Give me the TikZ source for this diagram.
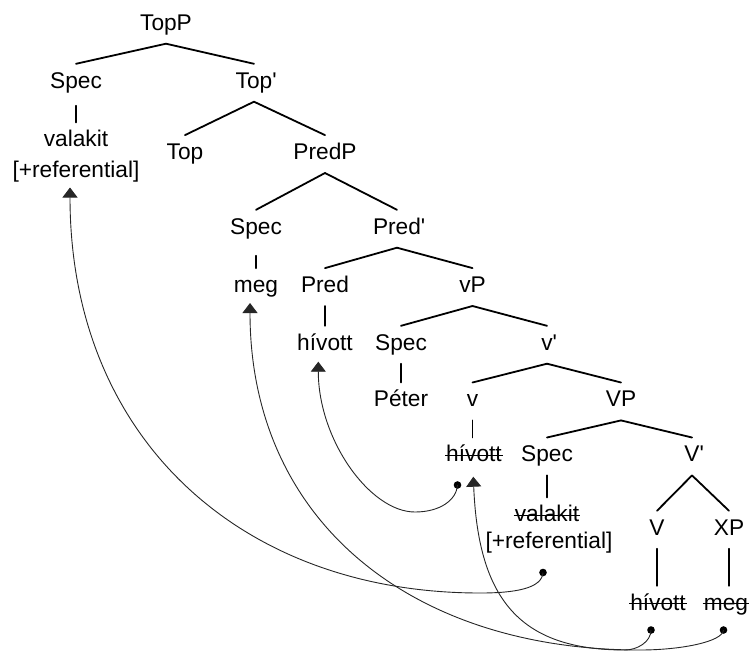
\documentclass[tikz,border=0pt]{standalone}
\usepackage{fontspec}
\setmainfont{Liberation Sans}
\usetikzlibrary{arrows.meta}
\begin{document}
\begin{tikzpicture}[x=1pt, y=-1pt,
  lbl/.style={inner xsep=1pt, inner ysep=0pt, anchor=base,
    text height=24pt, text depth=13.5pt,
    font=\fontsize{22.7}{27}\selectfont},
  branch/.style={line width=1.8pt, line cap=round},
  strike/.style={line width=1.4pt},
  mv/.style={line width=0.9pt, draw=black!85,
    -{Triangle[width=15pt,length=10pt]}},
  dot/.style={circle, fill=black, inner sep=0pt, minimum size=7.6pt}]
\useasboundingbox (0,0) rectangle (749,651);

% tree labels
\node[lbl] (topp)     at (166,30)    {TopP};
\node[lbl] (spec1)    at (76,88)     {Spec};
\node[lbl] (topbar)   at (254,88)    {Top\rlap{\textquotesingle}};
\node[lbl] (valakit1) at (76,146.7)  {valakit};
\node[lbl] (ref1)     at (76,177)    {[+referential]};
\node[lbl] (top)      at (185,159.3) {Top};
\node[lbl] (predp)    at (325,159.3) {PredP};
\node[lbl] (spec2)    at (256,234)   {Spec};
\node[lbl] (predbar)  at (397,234)   {Pred\rlap{\textquotesingle}};
\node[lbl] (meg1)     at (256,292.3) {meg};
\node[lbl] (pred)     at (325,292.3) {Pred};
\node[lbl] (vp)       at (472.5,292.3) {vP};
\node[lbl] (hivott1)  at (325,350)   {hívott};
\node[lbl] (spec3)    at (401,350)   {Spec};
\node[lbl] (vbar)     at (547,350)   {v\rlap{\textquotesingle}};
\node[lbl] (peter)    at (401,406.7) {Péter};
\node[lbl] (v)        at (472.5,406.7) {v};
\node[lbl] (vp2)      at (621,406.7) {VP};
\node[lbl] (hivott2)  at (474,461.7) {hívott};
\node[lbl] (spec4)    at (547,461.7) {Spec};
\node[lbl] (vbar2)    at (692,461.7) {V\rlap{\textquotesingle}};
\node[lbl] (valakit2) at (547,521.7) {valakit};
\node[lbl] (ref2)     at (549,548.5) {[+referential]};
\node[lbl] (vv)       at (657,535)   {V};
\node[lbl] (xp)       at (729,535)   {XP};
\node[lbl] (hivott3)  at (658,610)   {hívott};
\node[lbl] (meg2)     at (726,610)   {meg};

% binary branches
\foreach \p/\c in {topp/spec1, topp/topbar, topbar/top, topbar/predp,
    predp/spec2, predp/predbar, predbar/pred, predbar/vp,
    vp/spec3, vp/vbar, vbar/v, vbar/vp2, vp2/spec4, vp2/vbar2,
    vbar2/vv, vbar2/xp}
  \draw[branch] (\p.south) -- (\c.north);

% unary branches
\draw[branch, shorten <=4pt] (spec1.south) -- (spec1.south |- valakit1.north);
\draw[branch, shorten <=8pt] (spec2.south) -- (spec2.south |- meg1.north);
\foreach \p/\c in {pred/hivott1, spec3/peter, v/hivott2, spec4/valakit2,
    vv/hivott3, xp/meg2}
  \draw[branch] (\p.south) -- (\p.south |- \c.north);

% traces struck through
\foreach \n in {hivott2, valakit2, hivott3, meg2}
  \draw[strike] ([yshift=6.5pt]\n.base west) -- ([yshift=6.5pt]\n.base east);

% movement: trace dots, landing sites, turning points
\node[dot] (d1) at (543,572.5) {};
\node[dot] (d2) at (651,630) {};
\node[dot] (d3) at (723.5,630) {};
\node[dot] (d4) at (457.5,485) {};
\coordinate (t1) at (70,187.5);
\coordinate (t2) at (473.3,476.7);
\coordinate (t3) at (250,303);
\coordinate (t4) at (318.3,361.7);
\coordinate (m1) at (480,593);
\coordinate (m2) at (625,650);
\coordinate (m3) at (640,650);
\coordinate (m4) at (415,512);

\draw[mv] (d1.center) .. controls +(-1,16) and +(35,0) .. (m1)
  .. controls +(-240,0) and +(0,250) .. (t1);
\draw[mv] (d2.center) .. controls +(0,12) and +(12,0) .. (m2)
  .. controls +(-105,0) and +(5,123) .. (t2);
\draw[mv] (d3.center) .. controls +(-1,12) and +(40,0) .. (m3)
  .. controls +(-230,0) and +(0,217) .. (t3);
\draw[mv] (d4.center) .. controls +(-1,15) and +(25,0) .. (m4)
  .. controls +(-45,0) and +(0,78) .. (t4);
\end{tikzpicture}
\end{document}
